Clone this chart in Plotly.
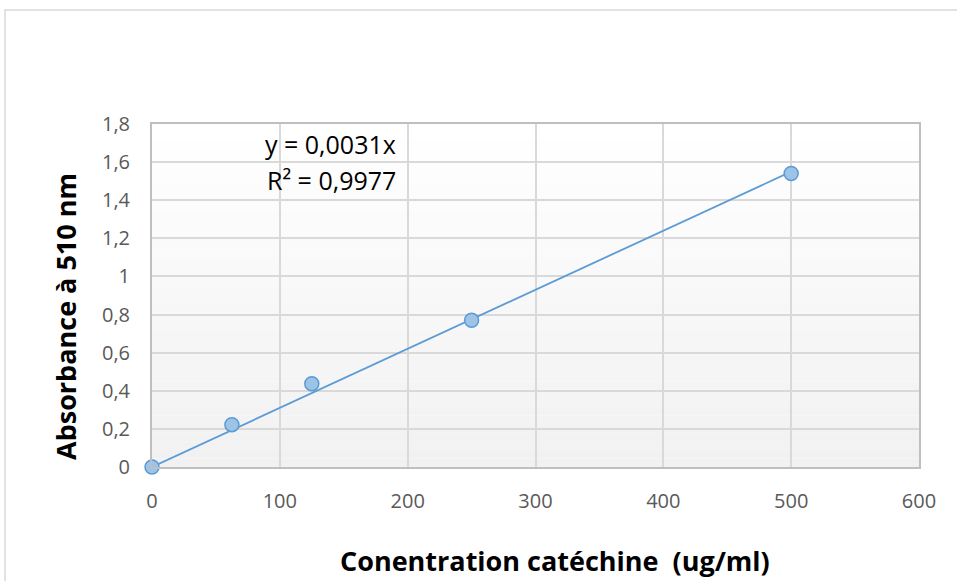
import plotly.graph_objects as go

# Data
concentration = [0, 62.5, 125, 250, 500]
absorbance = [0.0, 0.222, 0.437, 0.770, 1.540]
slope = 0.0031
r2_text = "R² = 0,9977"
eq_text = "y = 0,0031x"
x_ticks = [0, 100, 200, 300, 400, 500, 600]
y_ticks = [0, 0.2, 0.4, 0.6, 0.8, 1.0, 1.2, 1.4, 1.6, 1.8]
y_tick_labels = ["0", "0,2", "0,4", "0,6", "0,8", "1", "1,2", "1,4", "1,6", "1,8"]

FONT = "Open Sans"
W, H = 957, 581
L, R, T, B = 152, 38, 124, 114

fig = go.Figure()

# Trendline through origin
trend_x = [0, max(concentration)]
trend_y = [slope * v for v in trend_x]
fig.add_trace(go.Scatter(x=trend_x, y=trend_y, mode="lines",
                         line=dict(color="#5b9bd5", width=1.8),
                         hoverinfo="skip", showlegend=False))
fig.add_trace(go.Scatter(x=concentration, y=absorbance, mode="markers",
                         marker=dict(size=14, color="#9dc3e6",
                                     line=dict(color="#5b9bd5", width=1.5)),
                         showlegend=False, cliponaxis=False))

# gradient background bands
shapes = []
n = 40
for i in range(n):
    t = i / (n - 1)
    c = int(round(255 - (255 - 241) * (1 - t)))
    shapes.append(dict(type="rect", xref="x domain", yref="y domain",
                       x0=0, x1=1, y0=i / n, y1=(i + 1) / n,
                       fillcolor=f"rgb({c},{c},{c})", line=dict(width=0),
                       layer="below"))
# outer chart border
pw = W - L - R
ph = H - T - B
shapes.append(dict(type="rect", xref="paper", yref="paper",
                   x0=(5 - L) / pw, x1=(W + 20 - L) / pw,
                   y0=-(H + 20 - (H - B)) / ph, y1=((H - B) - 10) / ph,
                   line=dict(color="#d9d9d9", width=1.5), fillcolor="rgba(0,0,0,0)",
                   layer="below"))

fig.update_layout(
    width=W, height=H,
    margin=dict(l=L, r=R, t=T, b=B),
    paper_bgcolor="white",
    plot_bgcolor="rgba(0,0,0,0)",
    shapes=shapes,
    font=dict(family=FONT, color="#595959", size=20),
    xaxis=dict(range=[0, 600], tickvals=x_ticks, showgrid=True,
               gridcolor="#d9d9d9", gridwidth=2, zeroline=False,
               showline=True, linecolor="#bfbfbf", linewidth=2, mirror=True,
               ticks="", ticklabelstandoff=15,
               tickfont=dict(family=FONT, size=20, color="#595959")),
    yaxis=dict(range=[0, 1.8], tickvals=y_ticks, ticktext=y_tick_labels,
               showgrid=True, gridcolor="#d9d9d9", gridwidth=2, zeroline=False,
               showline=True, linecolor="#bfbfbf", linewidth=2, mirror=True,
               ticks="", ticklabelstandoff=16,
               tickfont=dict(family=FONT, size=20, color="#595959")),
    annotations=[
        dict(text=eq_text, x=(398 - L) / pw, y=((H - B) - 144) / ph,
             xref="paper", yref="paper", xanchor="right", yanchor="middle",
             showarrow=False, font=dict(family=FONT, size=25, color="#000000")),
        dict(text=r2_text, x=(398 - L) / pw, y=((H - B) - 180) / ph,
             xref="paper", yref="paper", xanchor="right", yanchor="middle",
             showarrow=False, font=dict(family=FONT, size=25, color="#000000")),
        dict(text="<b>Conentration catéchine  (ug/ml)</b>",
             x=(555 - L) / pw, y=((H - B) - 560) / ph,
             xref="paper", yref="paper", xanchor="center", yanchor="middle",
             showarrow=False, font=dict(family=FONT, size=27, color="#000000")),
        dict(text="<b>Absorbance à 510 nm</b>", textangle=-90,
             x=(65 - L) / pw, y=((H - B) - 317) / ph,
             xref="paper", yref="paper", xanchor="center", yanchor="middle",
             showarrow=False, font=dict(family=FONT, size=27, color="#000000")),
    ],
)

fig.write_html("out.html")
